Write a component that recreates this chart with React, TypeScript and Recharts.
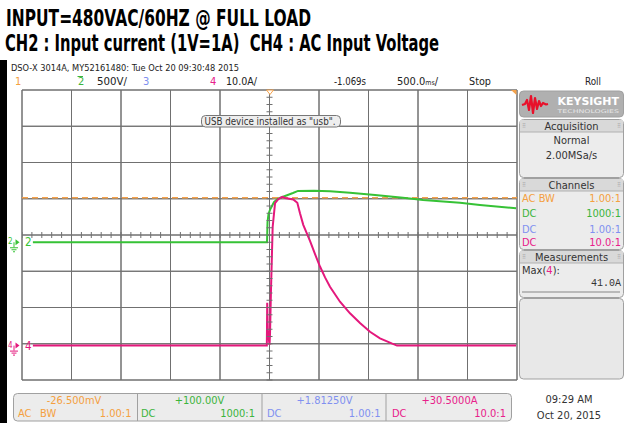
import React from 'react';
import { ComposedChart, Line, Scatter, XAxis, YAxis, CartesianGrid, ReferenceLine } from 'recharts';

// ---- scope settings ----
const timePerDiv = 0.5; // s/div
const hDivs = 10;
const vDivs = 8;
const ch2VoltsPerDiv = 500;
const ch2Offset = 100;
const ch4AmpsPerDiv = 10;
const ch4Offset = 30.5;
const refLevelVolts = 614;

// ---- CH2 trace (volts) ----
const ch2Time = [-2.39, -0.025, -0.02, -0.01, 0.005, 0.025, 0.045, 0.086, 0.157, 0.237, 0.288, 0.45, 0.611, 0.813, 1.066, 1.348, 1.551, 1.924, 2.126, 2.49];
const ch2Volts = [0, 0, 279, 390, 447, 500, 555, 603, 638, 679, 708, 712, 702, 683, 652, 614, 583, 545, 514, 468];

// ---- CH4 trace (amps) ----
const ch4Time = [-2.39, -0.027, -0.023, -0.017, 0.0, 0.005, 0.015, 0.032, 0.056, 0.089, 0.13, 0.157, 0.24, 0.281, 0.308, 0.341, 0.409, 0.46, 0.51, 0.561, 0.611, 0.712, 0.813, 0.914, 1.015, 1.116, 1.234, 1.288, 2.49];
const ch4Amps = [0, 0, 11.8, 4.3, 0.2, 2.9, 15.3, 32.7, 39.3, 40.4, 41.0, 40.7, 40.3, 39.4, 36.5, 33.3, 28.9, 25.2, 21.8, 18.8, 16.2, 12.1, 8.9, 6.2, 3.8, 2.0, 0.6, 0.0, 0];

// ---- labels ----
const title1 = 'INPUT=480VAC/60HZ @ FULL LOAD';
const title2 = 'CH2 : Input current (1V=1A)\u00a0\u00a0CH4 : AC Input Voltage';
const scopeInfo = 'DSO-X 3014A, MY52161480: Tue Oct 20 09:30:48 2015';
const chanOffsets = ['-26.500mV', '+100.00V', '+1.81250V', '+30.5000A'];
const chanCoupling = ['AC BW', 'DC', 'DC', 'DC'];
const chanProbe = ['1.00:1', '1000:1', '1.00:1', '10.0:1'];
const chanColors = ['#f4a040', '#3cb43c', '#8090f0', '#e8208a'];

const GREEN = '#36c236';
const MAGENTA = '#e4187c';
const ORANGE = '#f4a24c';
const GRID = '#707070';
const NARROW = "'Liberation Sans Narrow', 'DejaVu Sans Condensed', 'Arial Narrow', sans-serif";
const MONO = "'Liberation Mono', 'DejaVu Sans Mono', monospace";

const ch2Data = ch2Time.map((t, i) => ({ t, v: ch2Volts[i] }));
const ch4Data = ch4Time.map((t, i) => ({ t, a: ch4Amps[i] }));

const halfT = (hDivs / 2) * timePerDiv;
const xTicks = Array.from({ length: hDivs + 1 }, (_, i) => -halfT + i * timePerDiv);
const yTicks = Array.from({ length: vDivs + 1 }, (_, i) => i);
const vMinor = Array.from({ length: vDivs * 5 + 1 }, (_, i) => ({ t: 0, d: i / 5 }));
const hMinor = Array.from({ length: hDivs * 5 + 1 }, (_, i) => ({ t: -halfT + (i * timePerDiv) / 5, d: vDivs / 2 }));

const HTick = (p: any) => <line x1={p.cx - 3} y1={p.cy} x2={p.cx + 3} y2={p.cy} stroke={GRID} strokeWidth={1} />;
const VTick = (p: any) => <line x1={p.cx} y1={p.cy - 3} x2={p.cx} y2={p.cy + 3} stroke={GRID} strokeWidth={1} />;

type TP = { x: number; y: number; w?: number; size?: number; fill?: string; anchor?: 'start' | 'middle' | 'end'; weight?: string | number; family?: string; children: React.ReactNode };
const T = ({ x, y, w, size = 11, fill = '#222', anchor = 'start', weight = 'normal', family = NARROW, children }: TP) => (
  <text x={x} y={y} fontSize={size} fill={fill} textAnchor={anchor} fontWeight={weight} fontFamily={family}
    {...(w ? { textLength: w, lengthAdjust: 'spacingAndGlyphs' } : {})}>{children}</text>
);

const Ground = ({ y, color, label }: { y: number; color: string; label: string }) => (
  <g>
    <T x={8} y={y + 2} size={8} fill={color}>{label}</T>
    <path d={`M15.5 ${y - 3} L19.5 ${y} L15.5 ${y + 3} Z`} fill={color} />
    <line x1={14} y1={y} x2={14} y2={y + 5} stroke={color} strokeWidth={1} />
    <line x1={10} y1={y + 5.5} x2={18} y2={y + 5.5} stroke={color} strokeWidth={1} />
    <line x1={11.5} y1={y + 7.5} x2={16.5} y2={y + 7.5} stroke={color} strokeWidth={1} />
    <line x1={13} y1={y + 9.5} x2={15} y2={y + 9.5} stroke={color} strokeWidth={1} />
    <T x={25} y={y + 4} size={11.5} fill={color}>{label}</T>
  </g>
);

const PanelBox = ({ y, h, header, children }: { y: number; h: number; header?: string; children?: React.ReactNode }) => (
  <g>
    <rect x={519.5} y={y + 0.5} width={104} height={h} rx={4} fill="#ececec" stroke="#a0a0a0" />
    {header && (
      <g>
        <rect x={520} y={y + 1} width={103} height={12} fill="#d9d9d9" />
        <line x1={520} y1={y + 13} x2={623} y2={y + 13} stroke="#b0b0b0" />
        <T x={571.5} y={y + 10.5} size={11} anchor="middle" fill="#333">{header}</T>
        <T x={522} y={y + 9} size={6} fill="#999">⠿</T>
        <T x={617} y={y + 9} size={6} fill="#999">⠿</T>
      </g>
    )}
    {children}
  </g>
);

export default function App() {
  const boxSeps = [137.5, 262, 386];
  const boxCenters = [74, 199.5, 324.5, 449.5];
  const boxLefts = [18, 141, 267, 392];
  const boxRights = [131.5, 255, 380.5, 506];
  return (
    <div style={{ position: 'absolute', left: 0, top: 0, width: 624, height: 423, background: '#fff', overflow: 'hidden' }}>
      <div style={{ position: 'absolute', left: 0, top: 0 }}>
        <ComposedChart width={624} height={423} margin={{ top: 90, right: 107, bottom: 43, left: 22 }}>
          <XAxis type="number" dataKey="t" domain={[-halfT, halfT]} ticks={xTicks} hide allowDataOverflow />
          <YAxis yAxisId="grid" type="number" dataKey="d" domain={[0, vDivs]} ticks={yTicks} hide />
          <YAxis yAxisId="v" type="number" domain={[ch2Offset - (vDivs / 2) * ch2VoltsPerDiv, ch2Offset + (vDivs / 2) * ch2VoltsPerDiv]} hide allowDataOverflow />
          <YAxis yAxisId="a" type="number" domain={[ch4Offset - (vDivs / 2) * ch4AmpsPerDiv, ch4Offset + (vDivs / 2) * ch4AmpsPerDiv]} hide allowDataOverflow />
          <CartesianGrid yAxisId="grid" stroke={GRID} strokeWidth={1} />
          {xTicks.map((t) => (
            <ReferenceLine key={'vx' + t} yAxisId="grid" x={t} stroke={GRID} strokeWidth={1} />
          ))}
          {yTicks.map((d) => (
            <ReferenceLine key={'hy' + d} yAxisId="grid" y={d} stroke={GRID} strokeWidth={1} />
          ))}
          <Scatter yAxisId="grid" data={vMinor} dataKey="d" shape={HTick} isAnimationActive={false} />
          <Scatter yAxisId="grid" data={hMinor} dataKey="d" shape={VTick} isAnimationActive={false} />
          <ReferenceLine yAxisId="v" y={refLevelVolts} stroke={ORANGE} strokeWidth={1.5} strokeDasharray="6 4" />
          <Line yAxisId="v" data={ch2Data} dataKey="v" type="linear" stroke={GREEN} strokeWidth={2} dot={false} isAnimationActive={false} />
          <Line yAxisId="a" data={ch4Data} dataKey="a" type="linear" stroke={MAGENTA} strokeWidth={2} dot={false} isAnimationActive={false} />
        </ComposedChart>
      </div>
      <svg width={624} height={423} style={{ position: 'absolute', left: 0, top: 0, pointerEvents: 'none' }}>
        {/* black frame bits */}
        <rect x={0} y={60} width={7} height={363} fill="#000" />

        {/* titles */}
        <T x={6} y={26} w={305} size={23} weight="bold" fill="#000">{title1}</T>
        <T x={5} y={51} w={434} size={23} weight="bold" fill="#000">{title2}</T>
        <T x={11} y={70.5} w={228} size={9.5} fill="#222">{scopeInfo}</T>

        {/* status row */}
        <T x={15} y={85} size={11} fill={chanColors[0]}>1</T>
        <line x1={77.5} y1={76.5} x2={83} y2={76.5} stroke={chanColors[1]} />
        <T x={78} y={85} size={11} fill={chanColors[1]}>2</T>
        <T x={97} y={85} w={30} size={11}>500V/</T>
        <T x={143} y={85} size={11} fill={chanColors[2]}>3</T>
        <T x={210} y={85} size={11} fill={chanColors[3]}>4</T>
        <T x={226} y={85} w={31} size={11}>10.0A/</T>
        <T x={334} y={85} w={32} size={11}>-1.069s</T>
        <T x={397} y={85} size={11}>500.0<tspan fontSize={7}>ms</tspan>/</T>
        <T x={469} y={85} w={22} size={11}>Stop</T>
        <T x={585} y={85} w={16} size={11}>Roll</T>

        {/* markers */}
        <path d="M266.5 90 L273.5 90 L270 94.5 Z" fill="#fff" stroke={ORANGE} strokeWidth={1} />
        <path d="M511 90 L516.5 90 L516.5 95 Z" fill={ORANGE} />
        <Ground y={242.25} color={GREEN} label="2" />
        <Ground y={345.6} color={MAGENTA} label="4" />

        {/* USB popup */}
        <rect x={201.5} y={115.5} width={139} height={11.5} rx={4} fill="#eeeeee" stroke="#777" />
        <T x={204.5} y={124.5} w={131} size={10} fill="#333">USB device installed as "usb".</T>

        {/* right panel */}
        <rect x={519.5} y={91} width={104} height={26} rx={4} fill="#b0b0b0" stroke="#a0a0a0" />
        <polyline points="522,105 525,104 527,100 529,110 531,96 533,113 535,98 537,109 539,101 541,106 543,103 546,104.5 548,104"
          fill="none" stroke="#e8102a" strokeWidth={2.2} strokeLinejoin="round" />
        <T x={557.5} y={105} w={61.5} size={11} weight="bold" fill="#fff" family="'DejaVu Sans', sans-serif">KEYSIGHT</T>
        <T x={557.5} y={112.5} w={61.5} size={5} fill="#e6e6e6" family="'DejaVu Sans', sans-serif">TECHNOLOGIES</T>

        <PanelBox y={119} h={58} header="Acquisition">
          <T x={571.5} y={144} size={11} anchor="middle" fill="#333">Normal</T>
          <T x={571.5} y={158.5} size={11} anchor="middle" fill="#333">2.00MSa/s</T>
        </PanelBox>
        <PanelBox y={178} h={71} header="Channels">
          {[201.5, 217, 232.5, 246].map((y, i) => (
            <g key={i}>
              <T x={522} y={y} size={11} fill={chanColors[i]}>{chanCoupling[i]}</T>
              <T x={621} y={y} size={11} anchor="end" fill={chanColors[i]}>{chanProbe[i]}</T>
            </g>
          ))}
        </PanelBox>
        <PanelBox y={250} h={47} header="Measurements">
          <T x={522} y={274} size={11} fill="#333">Max(<tspan fill={chanColors[3]}>4</tspan>):</T>
          <T x={621} y={286} size={10} anchor="end" fill="#333" family={MONO}>41.0A</T>
          <line x1={522} y1={292} x2={620} y2={292} stroke="#a8a8a8" strokeWidth={1.5} />
        </PanelBox>
        <rect x={519.5} y={298.5} width={104} height={80.5} rx={4} fill="#e8e8e8" stroke="#a0a0a0" />

        {/* bottom channel box */}
        <rect x={13.5} y={393.5} width={498} height={27.5} rx={4} fill="#ececec" stroke="#a0a0a0" />
        {boxSeps.map((x) => (
          <line key={x} x1={x} y1={394} x2={x} y2={421} stroke="#a0a0a0" />
        ))}
        {chanOffsets.map((s, i) => (
          <T key={'o' + i} x={boxCenters[i]} y={403.5} size={11} anchor="middle" fill={chanColors[i]}>{s}</T>
        ))}
        <T x={18} y={417} size={11} fill={chanColors[0]}>AC</T>
        <T x={40} y={417} size={11} fill={chanColors[0]}>BW</T>
        {boxLefts.slice(1).map((x, i) => (
          <T key={'c' + i} x={x} y={417} size={11} fill={chanColors[i + 1]}>{chanCoupling[i + 1]}</T>
        ))}
        {boxRights.map((x, i) => (
          <T key={'p' + i} x={x} y={417} size={11} anchor="end" fill={chanColors[i]}>{chanProbe[i]}</T>
        ))}

        <T x={569} y={403} size={11} anchor="middle" fill="#333">09:29 AM</T>
        <T x={569} y={419} size={11} anchor="middle" fill="#333">Oct 20, 2015</T>
      </svg>
    </div>
  );
}
